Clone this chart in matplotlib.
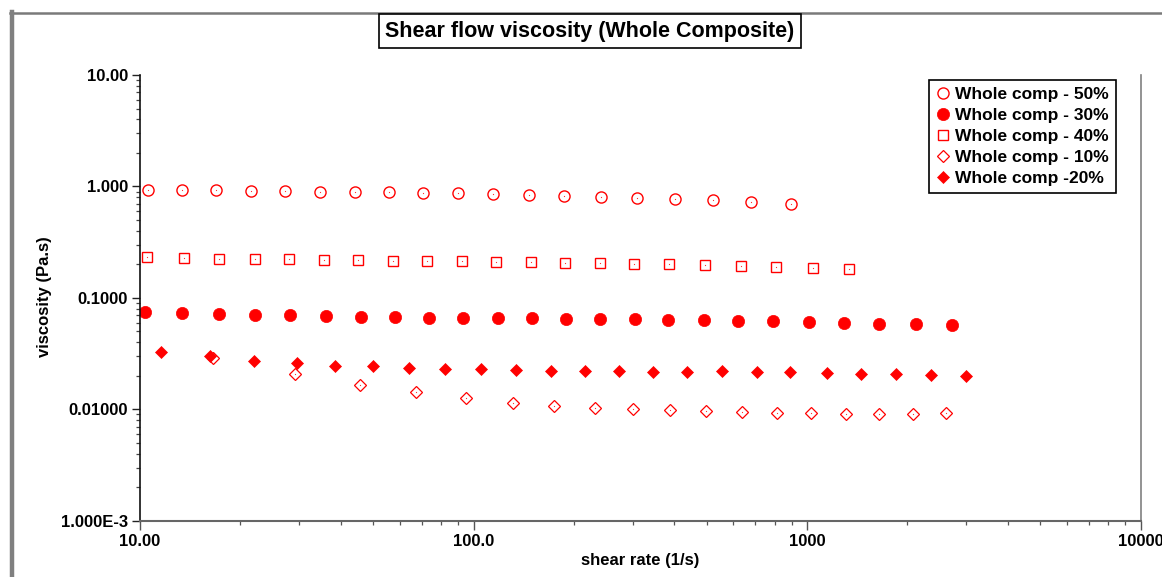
import matplotlib
matplotlib.use("Agg")
import matplotlib.pyplot as plt
from matplotlib.lines import Line2D
from matplotlib.ticker import FixedLocator, FixedFormatter, LogLocator, NullFormatter

plt.rcParams['font.family'] = ['Liberation Sans', 'DejaVu Sans']
plt.rcParams['font.weight'] = 'bold'

title = "Shear flow viscosity (Whole Composite)"
x_label = "shear rate (1/s)"
y_label = "viscosity (Pa.s)"

labels = ["Whole comp - 50%", "Whole comp - 30%", "Whole comp - 40%",
          "Whole comp - 10%", "Whole comp -20%"]

rate_50 = [10.55, 13.39, 16.90, 21.47, 27.22, 34.57, 44.04, 55.80, 70.71, 90.03,
           114.7, 146.7, 187.2, 241.7, 309.9, 402.0, 522.6, 680.8, 895.4]
visc_50 = [0.93, 0.93, 0.93, 0.91, 0.91, 0.90, 0.89, 0.885, 0.87, 0.87,
           0.855, 0.84, 0.825, 0.81, 0.79, 0.77, 0.75, 0.725, 0.695]

rate_30 = [10.35, 13.39, 17.22, 22.13, 28.17, 36.12, 45.90, 58.16, 73.55, 93.20,
           118.2, 149.5, 189.8, 239.5, 304.3, 383.8, 490.1, 622.3, 791.0, 1012,
           1291, 1648, 2118, 2721]
visc_30 = [0.0741, 0.0726, 0.0711, 0.0701, 0.0701, 0.0683, 0.0669, 0.0669, 0.0655, 0.0655,
           0.0655, 0.0655, 0.0641, 0.0641, 0.0641, 0.0638, 0.0632, 0.0619, 0.0619, 0.0606,
           0.0598, 0.0586, 0.0578, 0.0566]

rate_40 = [10.52, 13.55, 17.29, 22.08, 28.04, 35.62, 45.14, 57.48, 72.39, 92.17,
           116.8, 148.4, 188.1, 239.5, 303.5, 385.7, 493.6, 634.1, 809.0, 1040, 1334]
visc_40 = [0.234, 0.229, 0.224, 0.221, 0.223, 0.218, 0.217, 0.213, 0.213, 0.213,
           0.208, 0.209, 0.205, 0.205, 0.200, 0.200, 0.197, 0.193, 0.190, 0.185, 0.183]

rate_10 = [16.52, 29.16, 45.68, 67.24, 95.15, 131.1, 174.7, 231.4, 300.2, 389.1,
           498.9, 638.5, 812.9, 1030, 1309, 1648, 2084, 2611]
visc_10 = [0.0286, 0.0206, 0.0166, 0.0143, 0.0125, 0.0115, 0.0107, 0.0103, 0.0100, 0.00977,
           0.00964, 0.00944, 0.00925, 0.00919, 0.00906, 0.00906, 0.00900, 0.00925]

rate_20 = [11.56, 16.22, 21.97, 29.62, 38.50, 49.87, 64.19, 82.33, 105.3, 134.1,
           170.8, 215.9, 273.1, 344.6, 437.6, 556.2, 706.8, 891.3, 1146, 1455,
           1845, 2359, 2999]
visc_20 = [0.0326, 0.0298, 0.0272, 0.0258, 0.0246, 0.0243, 0.0233, 0.0229, 0.0229, 0.0226,
           0.0222, 0.0222, 0.0222, 0.0217, 0.0217, 0.0221, 0.0214, 0.0217, 0.0210, 0.0206,
           0.0206, 0.0202, 0.0200]

x_ticks = [10, 100, 1000, 10000]
x_tick_labels = ["10.00", "100.0", "1000", "10000"]
y_ticks = [0.001, 0.01, 0.1, 1, 10]
y_tick_labels = ["1.000E-3", "0.01000", "0.1000", "1.000", "10.00"]

W, H = 1162, 577
fig = plt.figure(figsize=(W / 100, H / 100), dpi=100)
ax = fig.add_axes([140 / W, 1 - 520.7 / H, (1140.5 - 140) / W, (520.7 - 75) / H])

red = '#ff0000'
ax.plot(rate_50, visc_50, ls='none', marker='o', ms=8.0, mfc='none', mec=red, mew=1.0, label=labels[0])
ax.plot(rate_30, visc_30, ls='none', marker='o', ms=8.8, mfc=red, mec=red, mew=0.5, label=labels[1])
ax.plot(rate_40, visc_40, ls='none', marker='s', ms=7.2, mfc='none', mec=red, mew=1.0, label=labels[2])
ax.plot(rate_10, visc_10, ls='none', marker='D', ms=5.8, mfc='none', mec=red, mew=0.9, label=labels[3])
ax.plot(rate_20, visc_20, ls='none', marker='D', ms=6.0, mfc=red, mec=red, mew=0.5, label=labels[4])
# tiny centre dots of the open symbols
for xs, ys in [(rate_50, visc_50), (rate_40, visc_40), (rate_10, visc_10)]:
    ax.plot(xs, ys, ls='none', marker='s', ms=0.8, mfc=red, mec='none', alpha=0.8)

ax.set_xscale('log')
ax.set_yscale('log')
ax.set_xlim(10, 10000)
ax.set_ylim(0.001, 10)

ax.xaxis.set_major_locator(FixedLocator(x_ticks))
ax.xaxis.set_major_formatter(FixedFormatter(x_tick_labels))
ax.xaxis.set_minor_locator(LogLocator(base=10, subs=range(2, 10), numticks=20))
ax.xaxis.set_minor_formatter(NullFormatter())
ax.yaxis.set_major_locator(FixedLocator(y_ticks))
ax.yaxis.set_major_formatter(FixedFormatter(y_tick_labels))
ax.yaxis.set_minor_locator(LogLocator(base=10, subs=range(2, 10), numticks=20))
ax.yaxis.set_minor_formatter(NullFormatter())

ax.tick_params(axis='both', which='major', labelsize=12, direction='out', colors='#222222', labelcolor='black')
ax.tick_params(axis='y', which='major', length=5.5, width=1.0, pad=3)
ax.tick_params(axis='y', which='minor', length=3, width=0.9, colors='#444444')
ax.tick_params(axis='x', which='major', length=6.5, width=1.0, pad=3, colors='#555555', labelcolor='black')
ax.tick_params(axis='x', which='minor', length=3, width=0.9, colors='#555555')
for lab in ax.get_xticklabels() + ax.get_yticklabels():
    lab.set_fontweight('bold')

ax.spines['top'].set_visible(False)
ax.spines['left'].set_color('#111111')
ax.spines['left'].set_linewidth(1.2)
ax.spines['bottom'].set_color('#666666')
ax.spines['bottom'].set_linewidth(1.5)
ax.spines['right'].set_color('#808080')
ax.spines['right'].set_linewidth(1.2)

fig.text(44 / W, 1 - 297 / H, y_label, rotation=90, ha='center', va='center', fontsize=12, fontweight='bold')
fig.text(640 / W, 1 - 561 / H, x_label, ha='center', va='center', fontsize=12, fontweight='bold')

fig.text(590 / W, 1 - 31 / H, title, ha='center', va='center', fontsize=15.5, fontweight='bold',
         bbox=dict(boxstyle='square,pad=0.3', facecolor='white', edgecolor='black', linewidth=1.2))

leg = ax.legend(loc='upper left', bbox_to_anchor=(929 / W, 1 - 80 / H), bbox_transform=fig.transFigure,
                borderaxespad=0, fancybox=False, frameon=True, framealpha=1, edgecolor='black',
                prop={'size': 12.5, 'weight': 'bold'}, handlelength=0.8, handletextpad=0.3,
                labelspacing=0.33, borderpad=0.4, markerscale=1.0)
leg.get_frame().set_linewidth(1.2)

# outer gray frame
fig.add_artist(Line2D([10 / W, 1.0], [1 - 12.5 / H, 1 - 12.5 / H], transform=fig.transFigure,
                      color='#7a7a7a', lw=1.8))
fig.add_artist(Line2D([12 / W, 12 / W], [0, 1 - 12 / H], transform=fig.transFigure,
                      color='#808080', lw=3.2))

fig.savefig('out.png', dpi=100)
